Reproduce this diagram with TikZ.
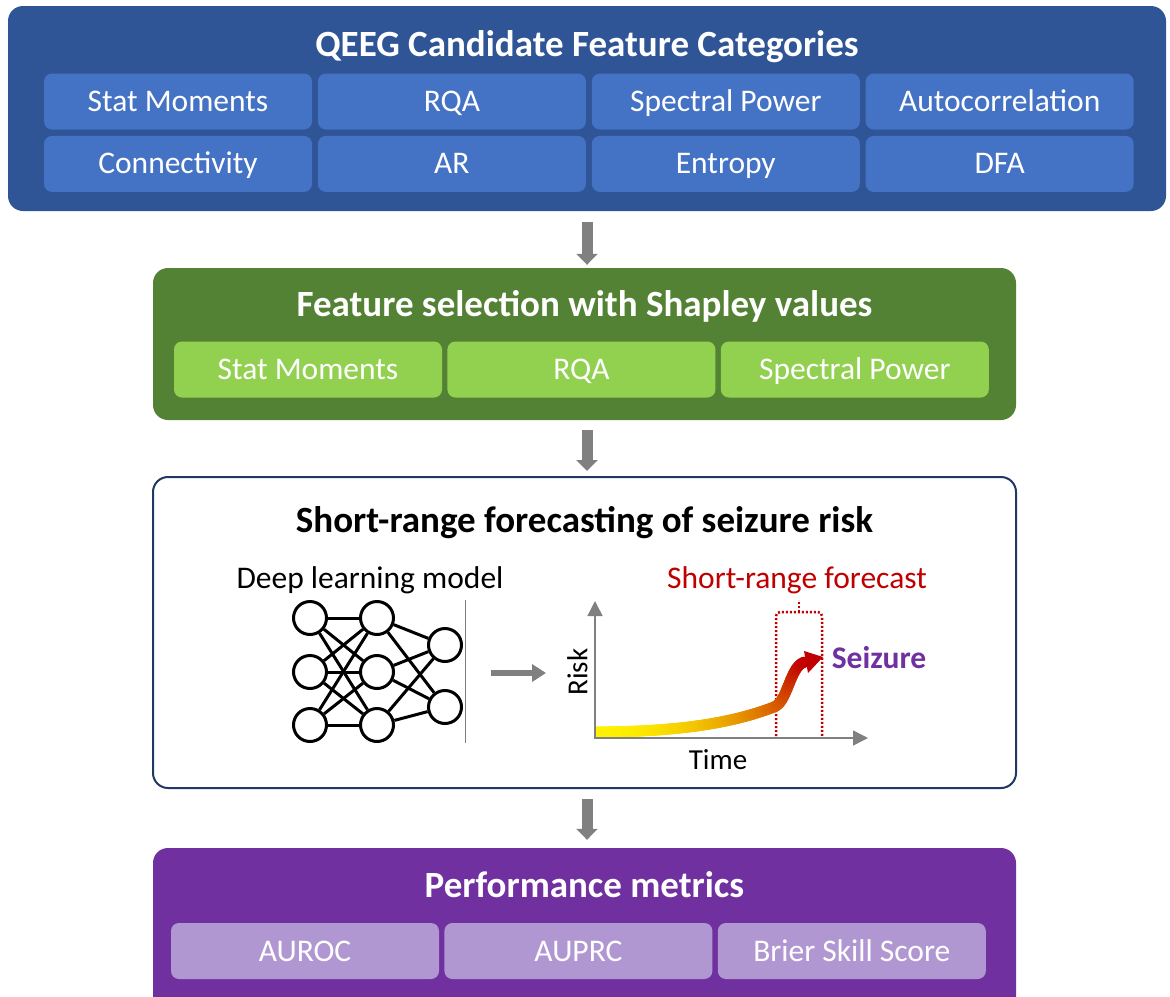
\documentclass[tikz,border=0pt]{standalone}
\usepackage{fontspec}
\setmainfont{Carlito}
\usetikzlibrary{positioning,arrows.meta,decorations.markings}

\definecolor{qeegblue}{HTML}{2F5597}
\definecolor{cellblue}{HTML}{4472C4}
\definecolor{selgreen}{HTML}{548235}
\definecolor{cellgreen}{HTML}{92D050}
\definecolor{framenavy}{HTML}{203864}
\definecolor{metpurple}{HTML}{7030A0}
\definecolor{cellpurple}{HTML}{B197D2}
\definecolor{flowgray}{HTML}{808080}
\definecolor{riskred}{HTML}{C00000}
\definecolor{riskyellow}{HTML}{FFF200}

\begin{document}
\begin{tikzpicture}[x=1pt,y=-1pt,
    panel/.style={rounded corners=15pt, inner sep=0pt},
    cell/.style={rounded corners=8pt, minimum width=268pt, minimum height=56pt, inner sep=0pt, text height=20pt, text depth=0pt, text=white, font=\fontsize{31.5}{38}\selectfont},
    heading/.style={inner sep=0pt, text height=24pt, text depth=0pt, font=\fontsize{37}{44}\selectfont\bfseries},
    body/.style={inner sep=0pt, text height=20pt, text depth=0pt, font=\fontsize{31.5}{38}\selectfont},
    small/.style={inner sep=0pt, text height=18.7pt, text depth=0pt, font=\fontsize{29}{35}\selectfont},
    flow/.style={draw=flowgray, line width=11pt, -{Triangle[width=21pt,length=11pt]}},
    neuron/.style={circle, draw, fill=white, line width=3pt, minimum size=33pt, inner sep=0pt},
    link/.style={line width=3pt},
    chartaxis/.style={draw=flowgray, line width=1.5pt, {Triangle[width=15pt,length=15pt]}-{Triangle[width=15pt,length=15pt]}},
    riskband/.style={decorate, decoration={markings, mark=between positions 0 and 1 step 0.004 with {%
        \pgfmathtruncatemacro\pc{100*(\pgfkeysvalueof{/pgf/decoration/mark info/sequence number}*0.004)^2}%
        \fill[riskred!\pc!riskyellow] (0,0) circle (5.6);}}}]
    \useasboundingbox (0,0) rectangle (1170,996);
    \clip (0,0) rectangle (1170,996);

    % candidate features
    \node [panel, fill=qeegblue, minimum width=1158pt, minimum height=205pt] (qeeg) at (587,108.5) {};
    \node [heading, text=white] (qeeg-title) at (587,44) {QEEG Candidate Feature Categories};
    \node [cell, fill=cellblue] (stat) at (178,101.5) {Stat Moments};
    \node [cell, fill=cellblue, right=5.5pt of stat] (rqa) {RQA};
    \node [cell, fill=cellblue, right=5.5pt of rqa] (spec) {Spectral Power};
    \node [cell, fill=cellblue, right=5.5pt of spec] (acorr) {Autocorrelation};
    \node [cell, fill=cellblue, below=6pt of stat] (conn) {Connectivity};
    \node [cell, fill=cellblue, right=5.5pt of conn] (ar) {AR};
    \node [cell, fill=cellblue, right=5.5pt of ar] (entr) {Entropy};
    \node [cell, fill=cellblue, right=5.5pt of entr] (dfa) {DFA};

    % shapley selection
    \node [panel, fill=selgreen, minimum width=863pt, minimum height=152pt] (fsel) at (584.5,344) {};
    \node [heading, text=white] (fsel-title) at (584.5,304) {Feature selection with Shapley values};
    \node [cell, fill=cellgreen] (sel-stat) at (308,369.5) {Stat Moments};
    \node [cell, fill=cellgreen, right=5pt of sel-stat] (sel-rqa) {RQA};
    \node [cell, fill=cellgreen, right=5pt of sel-rqa] (sel-spec) {Spectral Power};

    % forecasting
    \node [panel, draw=framenavy, line width=2pt, fill=white, minimum width=863pt, minimum height=311pt] (fcast) at (584.5,632.5) {};
    \node [heading] (fcast-title) at (584.5,520) {Short-range forecasting of seizure risk};
    \node [body] (dl-label) at (370,578) {Deep learning model};
    \node [neuron] (n11) at (310,618) {};
    \node [neuron] (n12) at (310,672) {};
    \node [neuron] (n13) at (310,725) {};
    \node [neuron] (n21) at (377,618) {};
    \node [neuron] (n22) at (377,672) {};
    \node [neuron] (n23) at (377,725) {};
    \node [neuron] (n31) at (445,645) {};
    \node [neuron] (n32) at (445,707) {};
    \path[link] (n11) edge (n21) edge (n22) edge (n23);
    \path[link] (n12) edge (n21) edge (n22) edge (n23);
    \path[link] (n13) edge (n21) edge (n22) edge (n23);
    \path[link] (n21) edge (n31) edge (n32);
    \path[link] (n22) edge (n31) edge (n32);
    \path[link] (n23) edge (n31) edge (n32);
    \draw[flowgray, line width=1pt] (465,600) -- (465,743);
    \coordinate (net-out) at (491,673);
    \coordinate (chart-in) at (546,673);
    \draw[flow, line width=6pt, -{Triangle[width=17pt,length=14pt]}] (net-out) -- (chart-in);

    % risk chart
    \coordinate (origin) at (595,738);
    \coordinate (risk-top) at (595,601);
    \coordinate (time-end) at (868,738);
    \draw[riskred, line width=2.5pt, dash pattern=on 2pt off 2pt, rounded corners=4pt] (776,736) -- (776,612) -- (822,612) -- (822,736);
    \draw[riskred, line width=2.5pt, dash pattern=on 2pt off 2pt] (799,612) -- (799,600);
    \begin{scope}
      \clip (596,560) rectangle (900,737);
      \path[riskband] (594,732) .. controls (690,732) and (740,720) .. (774,707) .. controls (788,702) and (790,665) .. (805,662);
    \end{scope}
    \fill[riskred] (804,651) -- (823,657) -- (808,673) -- cycle;
    \draw[chartaxis] (risk-top) -- (origin) -- (time-end);
    \node [small, rotate=90] (risk-label) at (578,672) {Risk};
    \node [small] (time-label) at (718,760) {Time};
    \node [body, text=riskred] (window-label) at (797,578) {Short-range forecast};
    \node [body, font=\fontsize{31.5}{38}\selectfont\bfseries, text=metpurple] (seizure) at (879,658.5) {Seizure};

    % metrics
    \node [panel, fill=metpurple, minimum width=863pt, minimum height=182pt] (perf) at (584.5,939) {};
    \node [heading, text=white] (perf-title) at (584.5,885.5) {Performance metrics};
    \node [cell, fill=cellpurple] (auroc) at (305,951) {AUROC};
    \node [cell, fill=cellpurple, right=5pt of auroc] (auprc) {AUPRC};
    \node [cell, fill=cellpurple, right=5pt of auprc] (bss) {Brier Skill Score};

    % pipeline arrows
    \draw[flow, shorten <=11pt, shorten >=3pt] (qeeg.south) -- (qeeg.south |- fsel.north);
    \draw[flow, shorten <=10pt, shorten >=5pt] (qeeg.south |- fsel.south) -- (qeeg.south |- fcast.north);
    \draw[flow, shorten <=10pt, shorten >=8pt] (qeeg.south |- fcast.south) -- (qeeg.south |- perf.north);
\end{tikzpicture}
\end{document}
